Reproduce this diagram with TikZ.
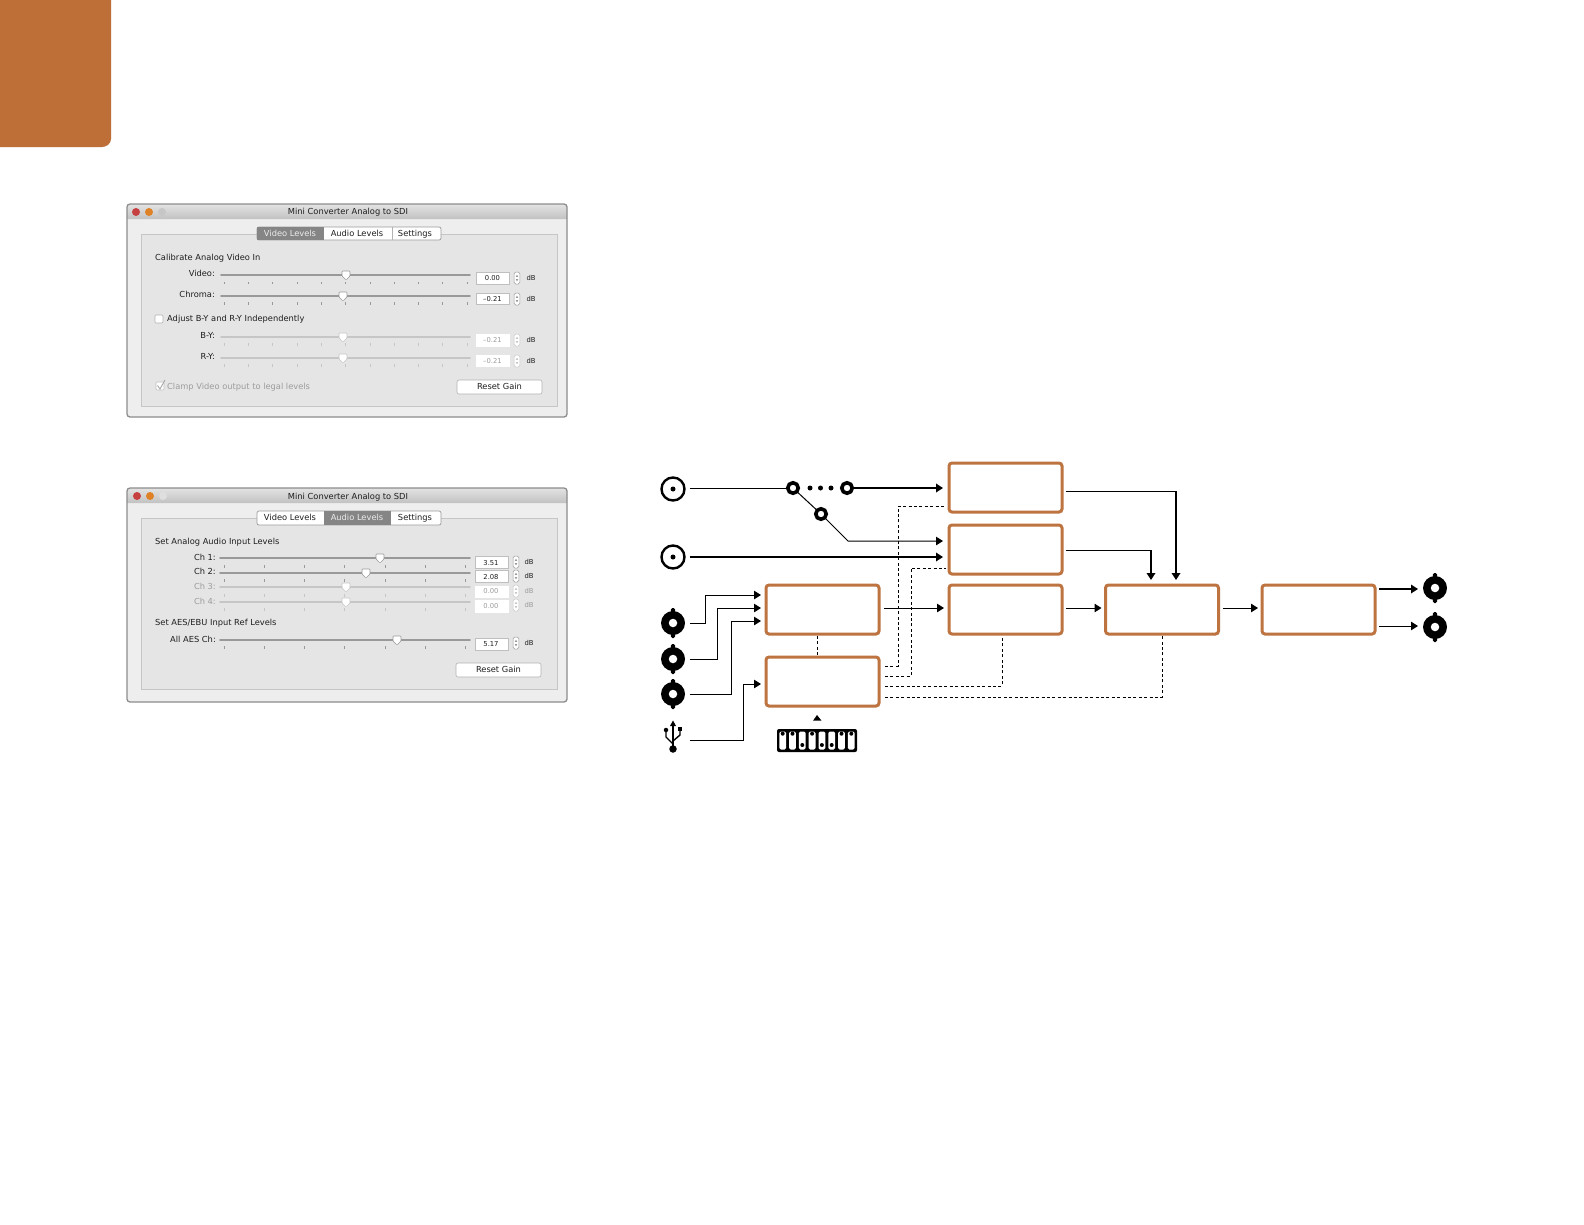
\documentclass[tikz,border=0pt]{standalone}
\usepackage{fontspec}
\setmainfont{DejaVu Sans}
\usetikzlibrary{arrows.meta,calc}
\definecolor{tabor}{HTML}{BE6F38}
\definecolor{boxor}{HTML}{BE7440}
\definecolor{winbg}{HTML}{EEEEEE}
\definecolor{panelbg}{HTML}{E5E5E5}
\definecolor{txtoff}{HTML}{9C9C9C}
\definecolor{txton}{HTML}{1E1E1E}
\definecolor{tabdark}{HTML}{858585}
\tikzset{
  block/.style={draw=boxor,line width=3pt,rounded corners=3pt,minimum width=113pt,minimum height=49pt,outer sep=0pt,inner sep=0pt,fill=white},
  thinline/.style={line width=1pt,-{Triangle[length=7pt,width=8.5pt]}},
  thickline/.style={line width=1.8pt,-{Triangle[length=7pt,width=8.5pt]}},
  plainline/.style={line width=1pt},
  ctrl/.style={line width=1pt,dash pattern=on 3pt off 2.4pt},
  coax/.style={circle,draw=black,line width=2.4pt,fill=white,minimum size=23pt,inner sep=0pt,outer sep=0pt},
  bnc/.style={circle,fill=black,minimum size=24pt,inner sep=0pt,outer sep=0pt},
  hole/.style={circle,fill=white,minimum size=8.5pt,inner sep=0pt,outer sep=0pt},
  dotmark/.style={circle,fill=black,minimum size=#1,inner sep=0pt,outer sep=0pt},
  swpoint/.style={circle,draw=black,line width=3.6pt,fill=white,minimum size=10.5pt,inner sep=0pt,outer sep=0pt},
  ui/.style={font=\fontsize{8.3}{9}\selectfont,inner sep=0pt,text=txton,text height=6.2pt,text depth=1.6pt},
  uismall/.style={font=\fontsize{6.8}{8}\selectfont,inner sep=0pt,text=txton,text height=5pt,text depth=0pt},
  uioff/.style={font=\fontsize{8.3}{9}\selectfont,inner sep=0pt,text=txtoff,text height=6.2pt,text depth=1.6pt},
  uismalloff/.style={font=\fontsize{6.8}{8}\selectfont,inner sep=0pt,text=txtoff,text height=5pt,text depth=0pt},
  tabbtn/.style={draw=gray!80,fill=white,line width=.7pt},
}
% name, x, y
\newcommand{\bncicon}[3]{%
  \fill[rounded corners=1.5pt] (#2-2.2,#3-15) rectangle (#2+2.2,#3-9);
  \fill[rounded corners=1.5pt] (#2-2.2,#3+9) rectangle (#2+2.2,#3+15);
  \node[bnc] (#1) at (#2,#3) {};
  \node[hole] (#1h) at (#2,#3) {};
}
% x1 x2 y thumb colourline firsttick step lasttick ticky
\newcommand{\uislider}[9]{%
  \draw[#5,line width=1.6pt,line cap=round] (#1,#3) -- (#2,#3);
  \foreach \tx in {#6,#7,...,#8} \draw[#5,line width=.5pt] (\tx,#9) -- (\tx,#9+2.5);
  \draw[#5,fill=white,line width=.6pt,rounded corners=.8pt] (#4-4,#3-4) -- (#4+4,#3-4) -- (#4+4,#3+1) -- (#4,#3+5) -- (#4-4,#3+1) -- cycle;
}
% name x1 x2 y1 y2 colour style
\newcommand{\uivalue}[7]{%
  \node[#7,draw=#6,fill=white,line width=.5pt,minimum width=#3pt-#2pt,minimum height=#5pt-#4pt] (#1) at ({(#2+#3)/2},{(#4+#5)/2}) {};
}
% stepper: x y colour
\newcommand{\uistep}[3]{%
  \draw[#3,fill=white,line width=.5pt,rounded corners=1.5pt] (#1-2.8,#2-6) rectangle (#1+2.8,#2+6);
  \fill[#3] (#1,#2-3.4) -- (#1-1.2,#2-1.2) -- (#1+1.2,#2-1.2) -- cycle;
  \fill[#3] (#1,#2+3.4) -- (#1-1.2,#2+1.2) -- (#1+1.2,#2+1.2) -- cycle;
}
% top bottom title y panel top panel bottom
\newcommand{\uiwindow}[5]{%
  \fill[winbg] (127,#1+3) -- (130,#1) -- (564,#1) -- (567,#1+3) -- (567,#2-3) -- (564,#2) -- (130,#2) -- (127,#2-3) -- cycle;
  \shade[top color=gray!22,bottom color=gray!48] (127,#3) -- (127,#1+3) -- (130,#1) -- (564,#1) -- (567,#1+3) -- (567,#3) -- cycle;
  \draw[gray!90,line width=1.3pt,rounded corners=3pt] (127,#1) rectangle (567,#2);
  \draw[gray!45,line width=.5pt,fill=panelbg] (141,#4) rectangle (557,#5);
}
\begin{document}
\begin{tikzpicture}[x=1pt,y=-1pt]
\useasboundingbox (0,0) rectangle (1584,1224);
\fill[white] (0,0) rectangle (1584,1224);
% corner tab
\fill[tabor] (0,0) -- (111,0) -- (111,139) .. controls (111,144) and (106,147) .. (102,147) -- (0,147) -- cycle;

% ---------- window 1
\uiwindow{204}{417}{219}{234}{406}
\fill[red!70!black!75] (136,212) circle (4);
\fill[orange!85!black!85] (149,212) circle (4);
\fill[gray!45] (162,212) circle (4);
\node[ui] (w1title) at (348,212) {Mini Converter Analog to SDI};
\draw[tabbtn,rounded corners=2pt] (257,227) rectangle (441,240);
\fill[tabdark] (257,227) rectangle (324,240);
\draw[gray!60,line width=.5pt] (392,227) -- (392,240);
\node[ui,text=gray!15] (w1t1) at (290,234) {Video Levels};
\node[ui] (w1t2) at (357,234) {Audio Levels};
\node[ui] (w1t3) at (415,234) {Settings};
\node[ui,anchor=west] (w1h) at (155,258) {Calibrate Analog Video In};
\node[ui,anchor=east] (w1v) at (215,274) {Video:};
\uislider{221}{470}{275}{346}{gray!80}{224}{248.3}{468}{281.5}
\uivalue{w1vb}{476}{509}{272}{284}{gray!50}{uismall}
\node[uismall] (w1vt) at (492.5,278) {0.00};
\uistep{517}{278}{gray!80}
\node[uismall] (w1vd) at (531,278) {dB};
\node[ui,anchor=east] (w1c) at (215,295) {Chroma:};
\uislider{221}{470}{296}{343}{gray!80}{224}{248.3}{468}{302}
\uivalue{w1cb}{476}{509}{293}{304}{gray!50}{uismall}
\node[uismall] (w1ct) at (492.5,299) {–0.21};
\uistep{517}{299}{gray!80}
\node[uismall] (w1cd) at (531,299) {dB};
\draw[gray!60,fill=white,line width=.6pt,rounded corners=1pt] (155,315) rectangle (163,323);
\node[ui,anchor=west] (w1a) at (167,319.5) {Adjust B-Y and R-Y Independently};
\node[ui,anchor=east] (w1b) at (215,336) {B-Y:};
\uislider{221}{470}{337}{343}{gray!45}{224}{248.3}{468}{343}
\uivalue{w1bb}{476}{509}{334}{346}{white}{uismalloff}
\node[uismalloff] (w1bt) at (492.5,340) {–0.21};
\uistep{517}{340}{gray!45}
\node[uismall] (w1bd) at (531,340) {dB};
\node[ui,anchor=east] (w1r) at (215,357) {R-Y:};
\uislider{221}{470}{358}{343}{gray!45}{224}{248.3}{468}{364}
\uivalue{w1rb}{476}{509}{355}{366}{white}{uismalloff}
\node[uismalloff] (w1rt) at (492.5,361) {–0.21};
\uistep{517}{361}{gray!45}
\node[uismall] (w1rd) at (531,361) {dB};
\draw[gray!50,fill=white,line width=.6pt,rounded corners=1pt] (156,382) rectangle (164,390);
\draw[gray!70,line width=.9pt] (157.5,385.5) -- (160,389) -- (165,380);
\node[uioff,anchor=west] (w1k) at (167,387.5) {Clamp Video output to legal levels};
\node[ui,draw=gray!60,fill=white,line width=.6pt,rounded corners=2pt,minimum width=85pt,minimum height=14pt] (w1rg) at (499.5,387) {Reset Gain};

% ---------- window 2
\uiwindow{488}{702}{503}{518}{689}
\fill[red!70!black!75] (137,496) circle (4);
\fill[orange!85!black!85] (150,496) circle (4);
\fill[gray!25] (163,496) circle (4);
\node[ui] (w2title) at (348,497) {Mini Converter Analog to SDI};
\draw[tabbtn,rounded corners=2pt] (257,511) rectangle (441,525);
\fill[tabdark] (324,511) rectangle (391,525);
\node[ui] (w2t1) at (290,518) {Video Levels};
\node[ui,text=gray!15] (w2t2) at (357,518) {Audio Levels};
\node[ui] (w2t3) at (415,518) {Settings};
\node[ui,anchor=west] (w2h) at (155,542) {Set Analog Audio Input Levels};
\node[ui,anchor=east] (w2c1) at (216,558) {Ch 1:};
\uislider{220}{470}{558}{380}{gray!80}{224}{264.2}{466}{565}
\uivalue{w2b1}{475}{508}{556}{568}{gray!50}{uismall}
\node[uismall] (w2t1v) at (491,563) {3.51};
\uistep{516}{562}{gray!80}
\node[uismall] (w2d1) at (529,562) {dB};
\node[ui,anchor=east] (w2c2) at (216,572.5) {Ch 2:};
\uislider{220}{470}{573}{366}{gray!80}{224}{264.2}{466}{579}
\uivalue{w2b2}{475}{508}{570}{582}{gray!50}{uismall}
\node[uismall] (w2t2v) at (491,577) {2.08};
\uistep{516}{576}{gray!80}
\node[uismall] (w2d2) at (529,576) {dB};
\node[uioff,anchor=east] (w2c3) at (216,587) {Ch 3:};
\uislider{220}{470}{587}{346}{gray!45}{224}{264.2}{466}{594}
\uivalue{w2b3}{475}{508}{586}{597}{white}{uismalloff}
\node[uismalloff] (w2t3v) at (491,591) {0.00};
\uistep{516}{591}{gray!45}
\node[uismalloff] (w2d3) at (529,591) {dB};
\node[uioff,anchor=east] (w2c4) at (216,602) {Ch 4:};
\uislider{220}{470}{602}{346}{gray!45}{224}{264.2}{466}{608}
\uivalue{w2b4}{475}{508}{600}{612}{white}{uismalloff}
\node[uismalloff] (w2t4v) at (491,606) {0.00};
\uistep{516}{605}{gray!45}
\node[uismalloff] (w2d4) at (529,605) {dB};
\node[ui,anchor=west] (w2h2) at (155,623.5) {Set AES/EBU Input Ref Levels};
\node[ui,anchor=east] (w2a) at (216,640) {All AES Ch:};
\uislider{220}{470}{640}{397}{gray!80}{224}{264.2}{466}{646}
\uivalue{w2b5}{475}{508}{638}{650}{gray!50}{uismall}
\node[uismall] (w2t5v) at (491,644) {5.17};
\uistep{516}{643}{gray!80}
\node[uismall] (w2d5) at (529,643) {dB};
\node[ui,draw=gray!60,fill=white,line width=.6pt,rounded corners=2pt,minimum width=85pt,minimum height=14pt] (w2rg) at (498.5,670) {Reset Gain};

% ---------- block diagram
\node[block] (A) at (1005.5,487.5) {};
\node[block] (B) at (1005.5,549.5) {};
\node[block] (C) at (1005.5,609.5) {};
\node[block] (D) at (822.5,609.5) {};
\node[block] (E) at (822.5,681.5) {};
\node[block] (F) at (1162,609.5) {};
\node[block] (G) at (1318.5,609.5) {};

\node[coax] (c1) at (673,489) {};
\node[dotmark=5pt] (c1d) at (673,489) {};
\node[coax] (c2) at (673,557) {};
\node[dotmark=5pt] (c2d) at (673,557) {};
\bncicon{b1}{673}{623}
\bncicon{b2}{673}{659}
\bncicon{b3}{673}{694}
\bncicon{o1}{1435}{588}
\bncicon{o2}{1435}{627}

% USB
\node[minimum size=24pt,inner sep=0pt,outer sep=0pt] (usb) at (673,740) {};
\draw[line width=1.4pt] (673,724) -- (673,748);
\fill (673,720.5) -- (670,726) -- (676,726) -- cycle;
\node[dotmark=7.5pt] (usbd) at (673,749) {};
\draw[line width=1.4pt] (673,744) -- (666,737) -- (666,731);
\node[dotmark=4.5pt] (usbl) at (666,730) {};
\draw[line width=1.4pt] (673,741) -- (680,735) -- (680,730);
\fill (678,726.5) rectangle (682,730.5);

% switch
\node[swpoint] (s1) at (793,488) {};
\node[swpoint] (s2) at (847,488) {};
\node[swpoint] (s3) at (821,514) {};
\node[dotmark=5pt] (sd1) at (810,488) {};
\node[dotmark=5pt] (sd2) at (820.5,488) {};
\node[dotmark=5pt] (sd3) at (831,488) {};

% DIP switch
\node[fill=black,rounded corners=2pt,minimum width=80pt,minimum height=23pt,inner sep=0pt,outer sep=0pt] (dip) at (817,740.5) {};
\foreach \i/\yy in {0/733.7,1/733.7,2/745,3/733.7,4/745,5/745,6/733.7,7/733.7}{
  \fill[white,rounded corners=1.5pt] ({782.7+9.8*\i-3.4},731.5) rectangle ({782.7+9.8*\i+3.4},749.5);
  \fill ({782.7+9.8*\i},\yy) circle (2);
}
\fill (817,715) -- (813,720.7) -- (821.5,720.7) -- cycle;

% signal connectors
\draw[plainline] ($(c1.east)+(5,-1)$) -- (s1);
\draw[thickline] (s2) -- ($(A.west)+(-6,0.5)$);
\draw[plainline] (s1) -- (s3);
\draw[thinline] (s3) -- ($(s3)+(27,27)$) -- ($(B.west)+(-6,-8.5)$);
\draw[thickline] ($(c2.east)+(5,0)$) -- ($(B.west)+(-6,7.5)$);
\draw[thinline] ($(b1.east)+(5,0)$) -- ++(15,0) |- ($(D.west)+(-5,-14.5)$);
\draw[thinline] ($(b2.east)+(5,0)$) -- ++(27,0) |- ($(D.west)+(-5,-1.5)$);
\draw[thinline] ($(b3.east)+(5,0)$) -- ++(41,0) |- ($(D.west)+(-5,11.5)$);
\draw[thinline] ($(usb.east)+(5,0)$) -- ++(53,0) |- ($(E.west)+(-5,2.5)$);
\draw[thinline] ($(D.east)+(5,-1.5)$) -- ($(C.west)+(-5,-1.5)$);
\draw[thinline] ($(C.east)+(4,-1.5)$) -- ($(F.west)+(-4,-1.5)$);
\draw[thinline] ($(F.east)+(4,-1.5)$) -- ($(G.west)+(-4,-1.5)$);
\draw[plainline] ($(A.east)+(4,3.5)$) -- ++(110,0) coordinate (ka);
\draw[thickline] (ka) -- ($(F.north)+(14,-5)$);
\draw[plainline] ($(B.east)+(4,0.5)$) -- ++(85,0) coordinate (kb);
\draw[thickline] (kb) -- ($(F.north)+(-11,-5)$);
\draw[thickline] ($(G.east)+(4,-20.5)$) -- ($(o1.west)+(-5,1)$);
\draw[thinline] ($(G.east)+(4,16.5)$) -- ($(o2.west)+(-5,-1)$);

% control connectors
\draw[ctrl] ($(D.south)+(-5.5,2)$) -- ($(E.north)+(-5.5,-1)$);
\draw[ctrl] ($(E.east)+(6,-15.5)$) -- ++(13,0) |- ($(A.west)+(-3,18.5)$);
\draw[ctrl] ($(E.east)+(6,-5.5)$) -- ++(26,0) |- ($(B.west)+(-3,18.5)$);
\draw[ctrl] ($(E.east)+(6,4.5)$) -| ($(C.south)+(-3.5,2)$);
\draw[ctrl] ($(E.east)+(6,15.5)$) -| ($(F.south)+(0,2)$);
\end{tikzpicture}
\end{document}
